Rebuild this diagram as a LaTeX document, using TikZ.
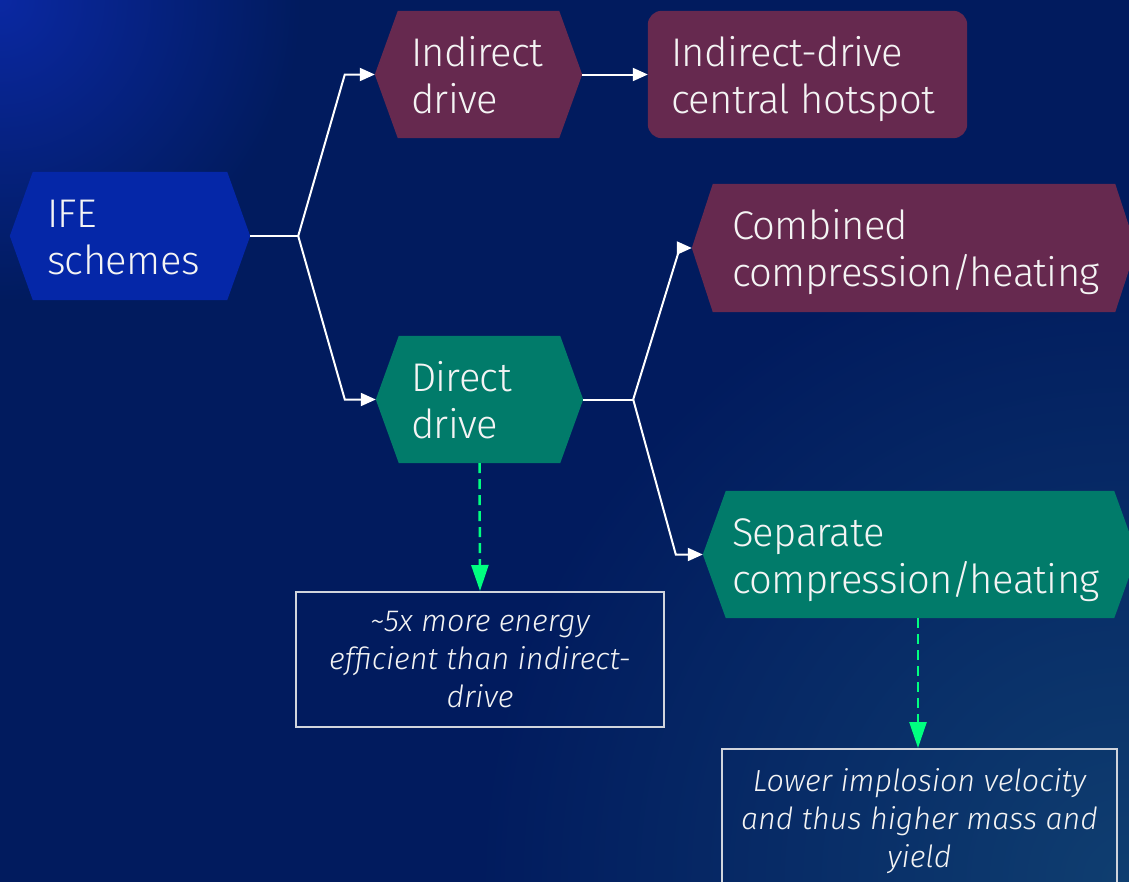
\documentclass[tikz,border=0pt]{standalone}
\usepackage{fontspec}
\setmainfont{Fira Sans}[UprightFont=* Light, ItalicFont=* Light Italic]
\newfontfamily\boxfont{Fira Sans}[UprightFont=* Light, LetterSpace=-1.5]
\usetikzlibrary{arrows.meta,calc}

\definecolor{navy}{HTML}{011B5E}
\definecolor{glowTL}{HTML}{0A28A2}
\definecolor{glowBR}{HTML}{0F3E70}
\definecolor{hexBlue}{HTML}{0527A8}
\definecolor{hexWine}{HTML}{66294F}
\definecolor{hexTeal}{HTML}{017B6A}
\definecolor{dashGreen}{HTML}{00FF80}
\definecolor{noteEdge}{HTML}{D0D4DC}
\definecolor{ink}{HTML}{F4F4F4}

\pgfdeclareradialshading{cornerTL}{\pgfpoint{0bp}{0bp}}%
  {color(0bp)=(glowTL); color(300bp)=(navy); color(301bp)=(navy)}
\pgfdeclareradialshading{cornerBR}{\pgfpoint{0bp}{0bp}}%
  {color(0bp)=(glowBR); color(650bp)=(navy); color(1500bp)=(navy)}

\pgfdeclarelayer{bg}
\pgfdeclarelayer{shapes}
\pgfsetlayers{bg,shapes,main}

% fill a left/right pointed hexagon around a node body: name, colour, tip depth
\newcommand\hexbody[3]{%
  \begin{pgfonlayer}{shapes}
    \fill[#2] (#1.north west) -- (#1.north east) -- ([xshift=#3]#1.east)
      -- (#1.south east) -- (#1.south west) -- ([xshift=-#3]#1.west) -- cycle;
  \end{pgfonlayer}
  \coordinate (#1L) at ([xshift=-#3]#1.west);
  \coordinate (#1R) at ([xshift=#3]#1.east);
}
% body text: box width, left padding, two left-aligned lines (baseline on the last)
\newcommand\bodytext[4]{\hbox to #1{\kern#2\vbox{\hbox{#3}\hbox{#4}}\hss}}
\newcommand\slashgap{\kern-2pt/\kern-2pt}

\tikzset{
  body/.style={rectangle, inner sep=0pt, text=ink,
    font=\boxfont\fontsize{40}{47}\selectfont,
    text height=77pt, text depth=0pt},
  note/.style={rectangle, inner sep=0pt, align=center, text=ink,
    draw=noteEdge, line width=2pt,
    font=\fontsize{30.5}{38}\selectfont\itshape},
  conn/.style={draw=white, line width=2pt,
    -{Triangle[length=15pt,width=13pt]}},
  plain/.style={draw=white, line width=2pt},
  hint/.style={draw=dashGreen, line width=2.5pt, dash pattern=on 10pt off 6pt,
    -{Triangle[length=26pt,width=17pt,fill=dashGreen]}},
}

\begin{document}
\begin{tikzpicture}[x=1pt,y=-1pt]
  \useasboundingbox (0,0) rectangle (1129,881);

  % backdrop
  \begin{pgfonlayer}{bg}
    \begin{scope}
      \clip (0,0) rectangle (1129,881);
      \fill[navy] (0,0) rectangle (1129,881);
      \node[inner sep=0pt] (glowB) at (1129,881) {\pgfuseshading{cornerBR}};
      \node[inner sep=0pt] (glowA) at (0,0) {\pgfuseshading{cornerTL}};
    \end{scope}
  \end{pgfonlayer}

  % boxes
  \node[body, minimum height=128pt] (ife) at (130,236)
    {\bodytext{194pt}{14pt}{IFE}{schemes}};
  \hexbody{ife}{hexBlue}{23pt}

  \node[body, minimum height=127pt] (ind) at (478.5,74.5)
    {\bodytext{161pt}{13pt}{Indirect}{drive}};
  \hexbody{ind}{hexWine}{23pt}

  \node[body, minimum height=127pt] (dir) at (479.5,399.5)
    {\bodytext{161pt}{12pt}{Direct}{drive}};
  \hexbody{dir}{hexTeal}{23pt}

  \node[body, minimum height=127pt] (hot) at (807.5,74.5)
    {\bodytext{319pt}{23pt}{Indirect-drive}{central hotspot}};
  \begin{pgfonlayer}{shapes}
    \fill[hexWine, rounded corners=14pt] (hot.north west) rectangle (hot.south east);
  \end{pgfonlayer}

  \node[body, minimum height=128pt] (comb) at (914,248)
    {\bodytext{402pt}{19pt}{Combined}{compression\slashgap heating}};
  \hexbody{comb}{hexWine}{21pt}

  \node[body, minimum height=127pt] (sep) at (920,554.5)
    {\bodytext{388pt}{6pt}{Separate}{compression\slashgap heating}};
  \hexbody{sep}{hexTeal}{23pt}

  \node[note, minimum width=368pt, minimum height=135pt] (n1) at (480,659.5)
    {\textasciitilde5x more energy\\efficient than indirect-\\drive};
  \node[note, minimum width=395pt, minimum height=144pt] (n2) at (919.5,821)
    {Lower implosion velocity\\and thus higher mass and\\yield};

  % branching connectors
  \draw[plain] (ifeR) -- ++(48,0) coordinate (s1);
  \draw[conn] (s1) -- ($(indL)+(-30,0)$) -- (indL);
  \draw[conn] (s1) -- ($(dirL)+(-31,0)$) -- (dirL);
  \draw[conn] (indR) -- (hot.west);

  \draw[plain] (dirR) -- ++(50,0) coordinate (s2);
  \draw[conn] (s2) -- ($(combL)+(-12,0)$) -- (combL);
  \draw[conn] (s2) -- ($(sepL)+(-27,0)$) -- (sepL);

  % dashed hints
  \draw[hint] (dir.south) -- (n1.north);
  \draw[hint] ([xshift=-2pt]sep.south) -- ([xshift=-1.5pt]n2.north);
\end{tikzpicture}
\end{document}
